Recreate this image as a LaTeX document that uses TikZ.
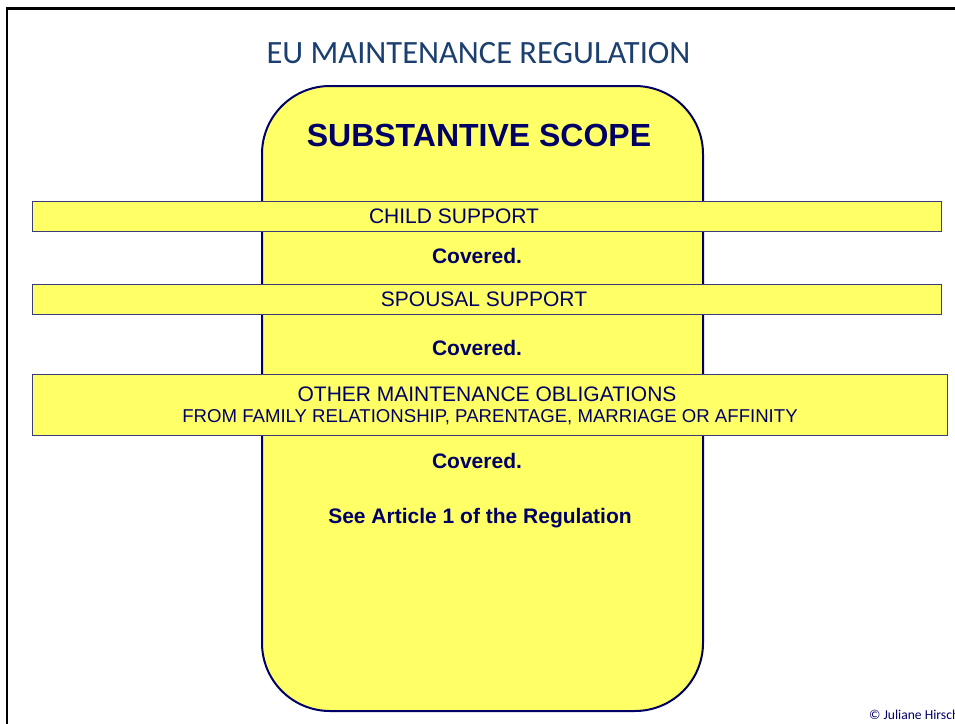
\documentclass[tikz,border=0pt]{standalone}
\usepackage{fontspec}
\setmainfont{Liberation Sans}
\newfontfamily\calfont{Carlito}
\definecolor{boxyellow}{HTML}{FFFF66}
\definecolor{navy}{HTML}{000066}
\definecolor{titleblue}{HTML}{1B3F6E}
\definecolor{barline}{HTML}{3C3C78}
\tikzset{
  bar/.style={fill=boxyellow, draw=barline, line width=1pt},
  bartext/.style={inner sep=0pt, text=navy, font=\fontsize{21}{25}\selectfont},
  smalltext/.style={inner sep=0pt, text=navy, font=\fontsize{18.6}{22}\selectfont},
  covered/.style={inner sep=0pt, text=navy, font=\fontsize{21}{25}\selectfont\bfseries},
}
\begin{document}
\begin{tikzpicture}[x=1pt,y=-1pt]
\useasboundingbox (0,0) rectangle (955,723);
\fill[white] (0,0) rectangle (955,723);
% frame
\draw[black, line width=2.5pt] (7,760) -- (7,8.3) -- (980,8.3);
% title
\node[inner sep=0pt, text=titleblue, font=\calfont\fontsize{32.5}{36}\selectfont] (title) at (478.5,53) {EU MAINTENANCE REGULATION};
% main rounded box
\draw[fill=boxyellow, draw=navy, line width=2pt, rounded corners=68pt] (262,86) rectangle (703,711);
\node[inner sep=0pt, text=navy, font=\fontsize{32}{36}\selectfont\bfseries] (scope) at (479,135) {SUBSTANTIVE SCOPE};
% bars
\draw[bar] (32,201) rectangle (941,231);
\node[bartext] (child) at (454,216) {CHILD SUPPORT};
\node[covered] (cov1) at (477,256) {Covered.};
\draw[bar] (32,284) rectangle (941,314);
\node[bartext] (spousal) at (484,299) {SPOUSAL SUPPORT};
\node[covered] (cov2) at (477,348) {Covered.};
\draw[bar] (32,374) rectangle (947,435);
\node[bartext] (other) at (487,394) {OTHER MAINTENANCE OBLIGATIONS};
\node[smalltext] (from) at (490,417.5) {FROM FAMILY RELATIONSHIP, PARENTAGE, MARRIAGE OR AFFINITY};
\node[covered] (cov3) at (477,461) {Covered.};
\node[covered] (see) at (480,518) {See Article 1 of the Regulation};
% copyright
\node[inner sep=0pt, anchor=base west, text=navy, font=\calfont\fontsize{13.6}{15}\selectfont] (copy) at (869,719) {\textcopyright\ Juliane Hirsch};
\end{tikzpicture}
\end{document}
